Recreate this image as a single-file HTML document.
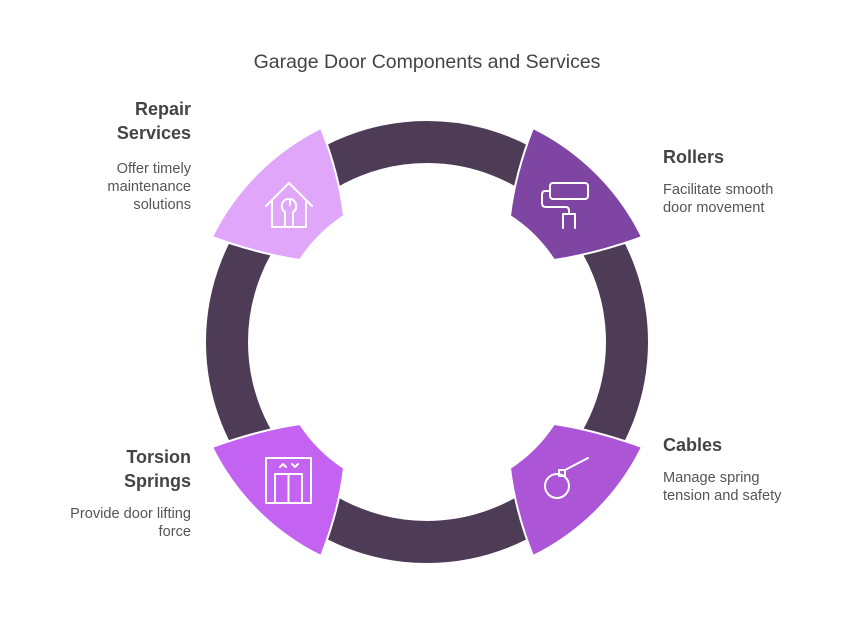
<!DOCTYPE html>
<html><head><meta charset="utf-8"><style>
html,body{margin:0;padding:0;background:#fff;}
body{width:854px;height:639px;overflow:hidden;position:relative;font-family:"Liberation Sans",sans-serif;}
.t{position:absolute;font-weight:bold;font-size:18px;color:#444;line-height:24px;}
.d{position:absolute;font-size:14.6px;color:#555;line-height:18px;}
.r{text-align:right;}
</style></head><body>
<svg width="854" height="639" style="position:absolute;left:0;top:0">
<text x="427" y="68" text-anchor="middle" font-family="Liberation Sans, sans-serif" font-size="19.5" fill="#444">Garage Door Components and Services</text>
<circle cx="427" cy="342" r="200" fill="none" stroke="#4E3B55" stroke-width="42"/>
<g transform="translate(427,342)" stroke="#fff" stroke-width="2" stroke-linejoin="round">
 <path d="M -106 -214 A 239 239 0 0 0 -215 -105 Q -168 -88 -127 -82 A 151 151 0 0 1 -83 -126 Q -88 -168 -106 -214 Z" fill="#E0A6FA"/>
 <path d="M -106 -214 A 239 239 0 0 0 -215 -105 Q -168 -88 -127 -82 A 151 151 0 0 1 -83 -126 Q -88 -168 -106 -214 Z" fill="#7F45A3" transform="scale(-1,1)"/>
 <path d="M -106 -214 A 239 239 0 0 0 -215 -105 Q -168 -88 -127 -82 A 151 151 0 0 1 -83 -126 Q -88 -168 -106 -214 Z" fill="#AC55D6" transform="scale(-1,-1)"/>
 <path d="M -106 -214 A 239 239 0 0 0 -215 -105 Q -168 -88 -127 -82 A 151 151 0 0 1 -83 -126 Q -88 -168 -106 -214 Z" fill="#C463F2" transform="scale(1,-1)"/>
</g>
<g fill="none" stroke="#fff" stroke-width="2" stroke-linecap="round" stroke-linejoin="round">
 <path d="M266 206 L289 183 L312 206 M272 200 V227 H306 V200"/>
 <path d="M285 227 V212 Q281 210 282 204 Q284 199 288 199 M293 227 V212 Q297 210 296 204 Q294 199 290 199 V205"/>
 <rect x="550" y="183" width="38" height="16" rx="3"/>
 <path d="M550 191 H545 Q542 191 542 195 V203 Q542 207 546 207 H566 Q569 207 569 211 V214 M563 228 V214 H575 V228"/>
 <circle cx="557" cy="486" r="12"/>
 <rect x="559" y="470" width="6" height="6"/>
 <path d="M565 470 L588 458"/>
 <rect x="266" y="458" width="45" height="45"/>
 <path d="M275 503 V474 H302 V503 M288.5 474 V503 M280 467 L283 464 L286 467 M292 464 L295 467 L298 464"/>
</g>
</svg>
<div class="t r" style="right:663px;top:97px">Repair<br>Services</div>
<div class="d r" style="right:663px;top:160px">Offer timely<br>maintenance<br>solutions</div>
<div class="t" style="left:663px;top:145px">Rollers</div>
<div class="d" style="left:663px;top:181px">Facilitate smooth<br>door movement</div>
<div class="t" style="left:663px;top:433px">Cables</div>
<div class="d" style="left:663px;top:469px">Manage spring<br>tension and safety</div>
<div class="t r" style="right:663px;top:445px">Torsion<br>Springs</div>
<div class="d r" style="right:663px;top:505px">Provide door lifting<br>force</div>
</body></html>
